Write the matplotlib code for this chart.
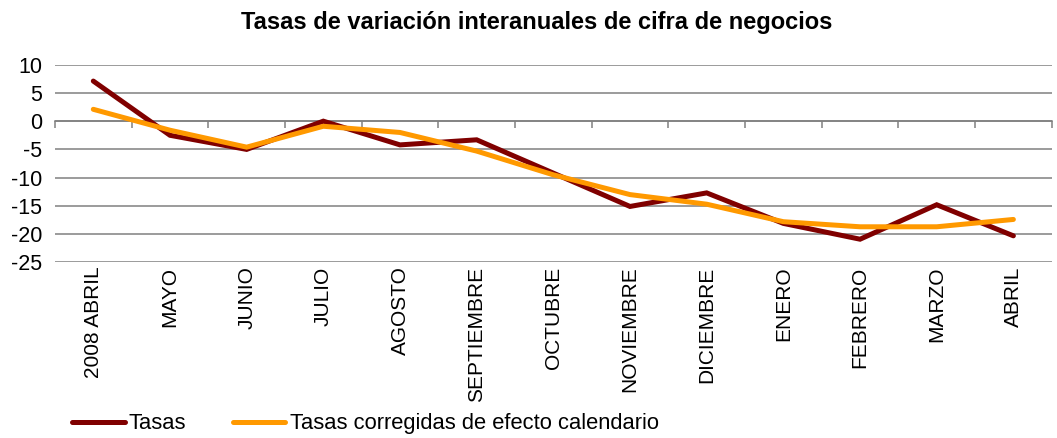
import numpy as np
import matplotlib
matplotlib.use("Agg")
import matplotlib.pyplot as plt
import matplotlib.transforms as mtransforms

plt.rcParams['font.family'] = ['Liberation Sans', 'DejaVu Sans']

# data
meses = ['2008 ABRIL', 'MAYO', 'JUNIO', 'JULIO', 'AGOSTO', 'SEPTIEMBRE', 'OCTUBRE',
         'NOVIEMBRE', 'DICIEMBRE', 'ENERO', 'FEBRERO', 'MARZO', 'ABRIL']
tasas = [7.1, -2.5, -5.0, 0.0, -4.2, -3.3, -9.2, -15.1, -12.7, -18.1, -20.9, -14.8, -20.3]
corregidas = [2.1, -1.6, -4.6, -0.9, -2.0, -5.3, -9.5, -13.0, -14.7, -17.8, -18.7, -18.7, -17.4]
yticks = [10, 5, 0, -5, -10, -15, -20, -25]

rojo = '#800000'
naranja = '#FF9900'
gris = '#808080'

fig = plt.figure(figsize=(10.57, 4.38), dpi=100)
ax = fig.add_axes([0.052, 0.401, 0.943, 0.4513])

x = np.arange(len(meses))
ax.plot(x, tasas, color=rojo, lw=3.6, solid_capstyle='round', solid_joinstyle='miter',
        label='Tasas', zorder=3)
ax.plot(x, corregidas, color=naranja, lw=3.6, solid_capstyle='round', solid_joinstyle='miter',
        label='Tasas corregidas de efecto calendario', zorder=4)

ax.set_xlim(-0.5, len(meses) - 0.5)
ax.set_ylim(-25, 10)
ax.set_yticks(yticks)
ax.set_yticklabels([str(v) for v in yticks])
ax.tick_params(axis='y', length=0, pad=9, labelsize=15.5)
ax.grid(axis='y', color=gris, lw=1.1)
ax.set_axisbelow(True)

for s in ['left', 'right', 'top']:
    ax.spines[s].set_visible(False)
# category axis crosses at zero
ax.spines['bottom'].set_position(('data', 0))
ax.spines['bottom'].set_color(gris)
ax.spines['bottom'].set_linewidth(1.1)
ax.set_xticks(np.arange(len(meses) + 1) - 0.5)
ax.set_xticklabels([])
ax.tick_params(axis='x', length=5, width=1.1, color=gris, direction='out')

# month labels below the plot area
trans = mtransforms.blended_transform_factory(ax.transData, ax.transAxes)
for i, m in enumerate(meses):
    ax.text(i, 0, m, rotation=90, ha='center', va='top', fontsize=15,
            transform=trans + mtransforms.ScaledTranslation(0, -3 / 72, fig.dpi_scale_trans))

fig.text(0.508, 0.949, 'Tasas de variación interanuales de cifra de negocios',
         ha='center', va='center', fontsize=17, fontweight='bold')

fig.legend(loc='center left', bbox_to_anchor=(0.068, 0.032), ncol=2, frameon=False,
           fontsize=15.8, handlelength=2.4, handletextpad=0.2, columnspacing=2.1,
           borderpad=0, borderaxespad=0)

fig.savefig('out.png', dpi=100)
